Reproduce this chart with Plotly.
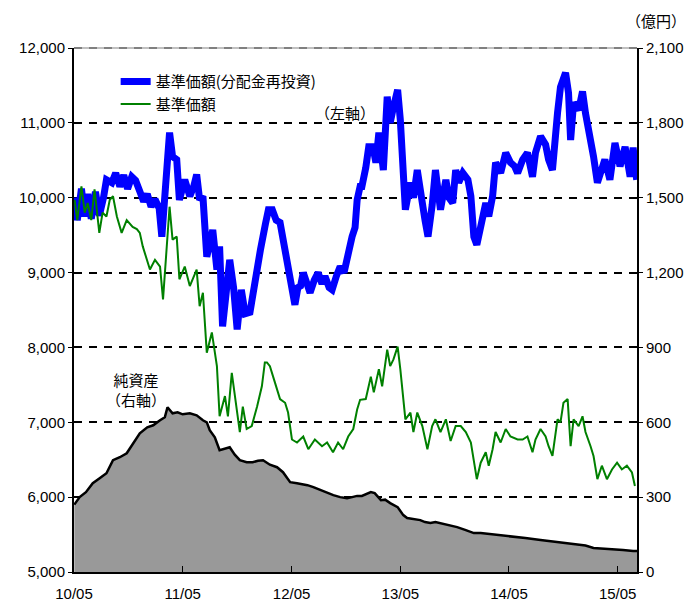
import plotly.graph_objects as go

# 基準価額(分配金再投資) - left axis
blue_dates = ["2010-05-03","2010-05-12","2010-05-26","2010-06-06","2010-06-16","2010-06-28","2010-07-12","2010-07-25",
"2010-08-08","2010-08-18","2010-09-05","2010-09-18","2010-10-02","2010-10-15","2010-10-28","2010-11-11","2010-11-24",
"2010-12-08","2010-12-21","2011-01-02","2011-01-15","2011-01-28","2011-02-11","2011-02-20","2011-03-02","2011-03-11",
"2011-03-18","2011-03-28","2011-04-11","2011-04-20","2011-05-08","2011-05-25","2011-06-07","2011-06-17","2011-06-27",
"2011-07-08","2011-07-21","2011-07-31","2011-08-10","2011-08-24","2011-09-02","2011-09-12","2011-09-25","2011-10-06",
"2011-10-19","2011-10-31","2011-11-14","2011-11-27","2011-12-13","2012-01-01","2012-01-17","2012-02-03","2012-02-13",
"2012-02-26","2012-03-10","2012-03-23","2012-04-06","2012-04-19","2012-05-02","2012-05-12","2012-05-22","2012-05-31",
"2012-06-09","2012-06-23","2012-07-02","2012-07-16","2012-07-29","2012-08-11","2012-08-21","2012-09-04","2012-09-14",
"2012-09-28","2012-10-11","2012-10-24","2012-11-03","2012-11-13","2012-11-20","2012-11-30","2012-12-07","2012-12-17",
"2012-12-23","2013-01-05","2013-01-15","2013-01-29","2013-02-08","2013-02-18","2013-02-25","2013-03-05","2013-03-18",
"2013-03-28","2013-04-08","2013-04-22","2013-05-01","2013-05-11","2013-05-18","2013-06-04","2013-06-14","2013-06-27",
"2013-07-07","2013-07-14","2013-07-23","2013-08-02","2013-08-16","2013-08-27","2013-09-13","2013-10-01","2013-10-11",
"2013-10-24","2013-11-03","2013-11-13","2013-11-27","2013-12-14","2013-12-24","2014-01-03","2014-01-13","2014-01-26",
"2014-02-12","2014-02-22","2014-03-07","2014-03-17","2014-04-03","2014-04-20","2014-05-06","2014-05-20","2014-05-30",
"2014-06-16","2014-07-02","2014-07-19","2014-07-29","2014-08-15","2014-09-01","2014-09-11","2014-09-24","2014-10-11",
"2014-10-21","2014-11-07","2014-11-17","2014-11-24","2014-12-04","2014-12-21","2015-01-03","2015-01-13","2015-01-30",
"2015-02-09","2015-02-22","2015-03-09","2015-03-19","2015-04-05","2015-04-22","2015-05-09","2015-05-26","2015-06-12",
"2015-06-22","2015-07-04"]
blue_values = [10000,9700,10120,9750,10050,9720,10080,9760,
10000,10240,10200,10330,10150,10300,10120,10280,10230,
10080,9950,10050,9880,9980,9860,9480,9900,10500,
10870,10550,10510,9970,10240,10020,10150,10310,9970,
10020,9210,9400,9570,9040,9350,8280,8700,9170,
8800,8240,8770,8450,8470,9000,9300,9650,9840,
9840,9700,9670,9350,9050,8820,8570,8800,8820,
9000,8850,8730,8900,9000,8850,8950,8800,8770,
8950,9080,9000,9210,9440,9480,9600,9970,10150,
10150,10400,10680,10680,10470,10870,10600,10370,11350,
11000,11210,11440,11040,10500,9840,10200,10000,10370,
10000,9930,9700,9480,9900,10370,9840,10240,10000,
9930,10370,10200,10330,10240,10020,9480,9370,9670,
9930,9750,10020,10470,10330,10600,10470,10420,10330,
10510,10600,10280,10600,10820,10710,10510,10370,11130,
11480,11670,11400,10770,11270,11170,11420,11130,10820,
10550,10200,10420,10510,10240,10730,10420,10680,10280,
10670,10240]

# 基準価額 - left axis
green_dates = ["2010-05-03","2010-05-12","2010-05-26","2010-06-06","2010-06-16","2010-06-28","2010-07-09","2010-07-25",
"2010-08-05","2010-08-18","2010-08-29","2010-09-09","2010-09-22","2010-10-08","2010-10-25","2010-11-14","2010-11-28",
"2010-12-08","2010-12-18","2011-01-02","2011-01-11","2011-01-28","2011-02-14","2011-02-24","2011-03-08","2011-03-18",
"2011-03-28","2011-04-11","2011-04-20","2011-05-08","2011-05-25","2011-06-07","2011-06-17","2011-06-27","2011-07-08",
"2011-07-21","2011-08-07","2011-08-24","2011-09-02","2011-09-20","2011-09-30","2011-10-13","2011-10-30","2011-11-09",
"2011-11-19","2011-12-02","2011-12-19","2012-01-06","2012-01-22","2012-02-01","2012-02-08","2012-02-18","2012-03-06",
"2012-03-23","2012-04-09","2012-04-19","2012-05-02","2012-05-19","2012-06-09","2012-06-26","2012-07-18","2012-08-11",
"2012-08-28","2012-09-17","2012-10-04","2012-10-21","2012-11-07","2012-11-24","2012-12-07","2012-12-17","2013-01-05",
"2013-01-22","2013-02-01","2013-02-18","2013-03-01","2013-03-18","2013-03-28","2013-04-08","2013-04-22","2013-05-01",
"2013-05-18","2013-06-04","2013-06-14","2013-06-27","2013-07-14","2013-07-31","2013-08-16","2013-08-27","2013-09-13",
"2013-10-01","2013-10-17","2013-11-03","2013-11-20","2013-12-07","2013-12-24","2014-01-03","2014-01-13","2014-01-26",
"2014-02-12","2014-02-22","2014-03-07","2014-03-17","2014-04-03","2014-04-20","2014-05-06","2014-05-30","2014-06-16",
"2014-07-02","2014-07-19","2014-07-29","2014-08-15","2014-09-01","2014-09-11","2014-09-24","2014-10-11","2014-10-21",
"2014-10-31","2014-11-14","2014-11-24","2014-12-04","2014-12-21","2015-01-03","2015-01-13","2015-01-30","2015-02-09",
"2015-02-22","2015-03-09","2015-03-26","2015-04-12","2015-04-29","2015-05-15","2015-06-01","2015-06-18","2015-06-28"]
green_values = [9970,9700,10150,9800,9930,9700,10110,9530,
9800,9750,9970,10020,9750,9530,9700,9610,9580,
9530,9350,9150,9040,9170,9080,8640,9260,9880,
9440,9480,8910,9080,8820,8950,9040,8550,8730,
7930,8200,7750,7080,7350,7080,7660,7170,6870,
7210,6910,6950,7210,7480,7800,7800,7750,7530,
7310,7260,7130,6770,6730,6810,6640,6770,6680,
6730,6600,6730,6640,6810,6910,7170,7300,7310,
7610,7400,7710,7480,7970,7750,7840,8010,7710,
7040,7130,6870,7130,6950,6640,6950,7040,6870,
7040,6750,6950,6950,6870,6730,6510,6240,6460,
6600,6420,6640,6870,6730,6910,6810,6770,6770,
6810,6600,6770,6910,6810,6680,6550,7040,7000,
7260,7310,6680,7040,6950,7080,6870,6680,6550,
6240,6420,6240,6370,6460,6370,6420,6330,6150]

# 純資産 (億円) - right axis
nav_dates = ["2010-05-02","2010-05-20","2010-06-10","2010-07-03","2010-07-25","2010-08-18","2010-09-09","2010-10-02",
"2010-10-25","2010-11-14","2010-12-08","2011-01-02","2011-01-22","2011-02-14","2011-03-02","2011-03-11","2011-03-28",
"2011-04-14","2011-05-01","2011-05-25","2011-06-17","2011-07-08","2011-07-21","2011-07-31","2011-08-17","2011-09-02",
"2011-09-20","2011-10-06","2011-10-23","2011-11-09","2011-12-02","2011-12-22","2012-01-09","2012-01-26","2012-02-18",
"2012-03-13","2012-04-02","2012-04-26","2012-05-19","2012-06-23","2012-07-13","2012-08-06","2012-08-29","2012-09-18",
"2012-10-11","2012-11-03","2012-11-20","2012-12-07","2012-12-23","2013-01-12","2013-01-22","2013-02-04","2013-02-25",
"2013-03-11","2013-03-28","2013-04-22","2013-05-11","2013-05-24","2013-06-14","2013-07-07","2013-07-23","2013-08-10",
"2013-08-27","2013-09-13","2013-10-06","2013-11-08","2013-12-07","2014-01-03","2014-01-26","2014-03-01","2014-04-03",
"2014-05-19","2014-06-25","2014-08-15","2014-10-11","2014-12-04","2015-01-13","2015-02-09","2015-03-12","2015-04-15",
"2015-05-19","2015-06-22","2015-07-05"]
nav_values = [270,300,320,356,375,396,448,460,
476,510,556,580,588,608,620,660,636,
640,632,636,628,608,600,568,540,488,
496,500,470,448,440,440,446,448,430,
420,400,360,356,348,340,328,318,308,
300,296,300,305,305,315,320,316,288,
290,276,260,228,216,212,208,200,196,
200,196,188,180,168,156,156,152,148,
140,136,128,120,112,106,96,94,92,
88,84,84]

x_tickvals = ["2010-05-01","2011-05-01","2012-05-01","2013-05-01","2014-05-01","2015-05-01"]
x_ticktext = ["10/05","11/05","12/05","13/05","14/05","15/05"]

NUM_FONT = "Liberation Sans, Arial, Noto Sans CJK JP"
JP_FONT = "Noto Sans CJK JP, Liberation Sans"

fig = go.Figure()
fig.add_trace(go.Scatter(x=nav_dates, y=nav_values, yaxis="y2", mode="lines",
                         line=dict(color="#000000", width=2.5), fill="tozeroy",
                         fillcolor="#999999", showlegend=False, name="純資産"))
fig.add_trace(go.Scatter(x=blue_dates, y=blue_values, mode="lines",
                         line=dict(color="#0000FF", width=7), name="基準価額(分配金再投資)"))
fig.add_trace(go.Scatter(x=green_dates, y=green_values, mode="lines",
                         line=dict(color="#008000", width=2), name="基準価額"))

fig.update_layout(
    width=693, height=604,
    margin=dict(l=74, r=56, t=48, b=32),
    paper_bgcolor="white", plot_bgcolor="white",
    font=dict(family=NUM_FONT, size=15, color="#000000"),
    legend=dict(x=0.074, y=0.967, xanchor="left", yanchor="top",
                bgcolor="rgba(0,0,0,0)", font=dict(family=JP_FONT, size=15),
                tracegroupgap=0),
    xaxis=dict(type="date", range=["2010-05-01", "2015-07-05"],
               tickvals=x_tickvals, ticktext=x_ticktext,
               ticks="inside", ticklen=6, tickwidth=1, tickcolor="#000",
               showline=True, linecolor="#000", linewidth=2,
               showgrid=False, zeroline=False, automargin=False,
               tickfont=dict(size=15), ticklabelstandoff=7),
    yaxis=dict(range=[5000, 12000], dtick=1000, tickformat=",",
               ticks="outside", ticklen=4, tickcolor="#000",
               showline=True, linecolor="#000", linewidth=2,
               showgrid=True, gridcolor="#000000", gridwidth=2, griddash="8px,7px",
               zeroline=False, automargin=False, tickfont=dict(size=15)),
    yaxis2=dict(range=[0, 2100], dtick=300, tickformat=",", overlaying="y", side="right",
                ticks="outside", ticklen=4, tickcolor="#000",
                showline=True, linecolor="#000", linewidth=2,
                showgrid=False, zeroline=False, automargin=False, tickfont=dict(size=15)),
    shapes=[
        dict(type="line", xref="paper", yref="paper", x0=0, x1=1, y0=1, y1=1,
             line=dict(color="#c0c0c0", width=2), layer="above"),
        dict(type="line", xref="paper", yref="paper", x0=0, x1=1, y0=1, y1=1,
             line=dict(color="#808080", width=2, dash="8px,7px"), layer="above"),
    ],
    annotations=[
        dict(text="（左軸）", xref="paper", yref="paper", x=(345 - 74) / 563, y=(572 - 113) / 524,
             xanchor="center", yanchor="middle",
             showarrow=False, font=dict(family=JP_FONT, size=15)),
        dict(text="純資産<br>（右軸）", xref="paper", yref="paper", x=(136 - 74) / 563, y=(572 - 389) / 524,
             xanchor="center", yanchor="middle",
             showarrow=False, font=dict(family=JP_FONT, size=15)),
        dict(text="（億円）", xref="paper", yref="paper", x=(656 - 74) / 563, y=(572 - 20) / 524,
             xanchor="center", yanchor="middle",
             showarrow=False, font=dict(family=JP_FONT, size=15)),
    ],
)

fig.write_html("out.html")
